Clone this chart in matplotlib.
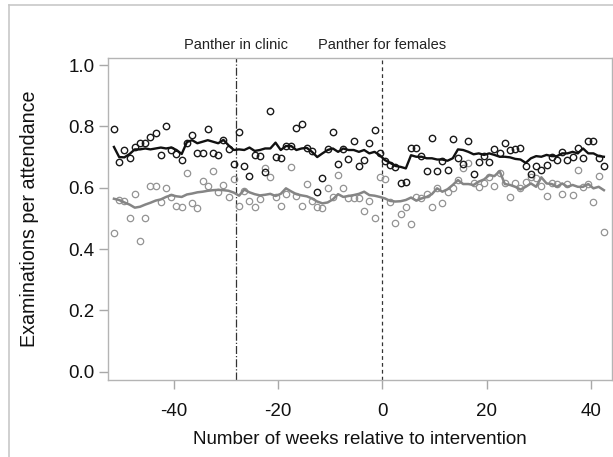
import numpy as np
import matplotlib
matplotlib.use("Agg")
import matplotlib.pyplot as plt
from matplotlib.lines import Line2D
from matplotlib.transforms import blended_transform_factory

plt.rcParams['font.family'] = ['Liberation Sans', 'DejaVu Sans']
plt.rcParams['axes.unicode_minus'] = False

# weeks relative to intervention (points sit mid-week)
weeks = np.arange(-51.5, 43.0, 1.0)

# examinations per attendance, group 1 (black) and group 2 (gray)
black_pts = [0.791, 0.685, 0.723, 0.697, 0.733, 0.745, 0.745, 0.764, 0.779, 0.707,
             0.801, 0.723, 0.710, 0.690, 0.747, 0.773, 0.714, 0.714, 0.791, 0.712,
             0.707, 0.755, 0.726, 0.678, 0.782, 0.671, 0.638, 0.707, 0.705, 0.652,
             0.849, 0.701, 0.696, 0.736, 0.736, 0.796, 0.809, 0.729, 0.720, 0.587,
             0.631, 0.725, 0.783, 0.676, 0.727, 0.693, 0.753, 0.671, 0.690, 0.745,
             0.788, 0.712, 0.688, 0.674, 0.669, 0.616, 0.620, 0.730, 0.730, 0.703,
             0.655, 0.761, 0.655, 0.688, 0.658, 0.758, 0.696, 0.677, 0.752, 0.644,
             0.685, 0.703, 0.683, 0.725, 0.712, 0.745, 0.723, 0.727, 0.729, 0.671,
             0.645, 0.671, 0.658, 0.675, 0.699, 0.690, 0.717, 0.690, 0.701, 0.729,
             0.696, 0.752, 0.752, 0.696, 0.671]
gray_pts = [0.451, 0.560, 0.558, 0.501, 0.579, 0.426, 0.501, 0.605, 0.605, 0.554,
            0.599, 0.569, 0.541, 0.536, 0.647, 0.549, 0.533, 0.621, 0.605, 0.655,
            0.586, 0.608, 0.569, 0.627, 0.540, 0.590, 0.557, 0.538, 0.562, 0.665,
            0.634, 0.571, 0.541, 0.580, 0.667, 0.572, 0.541, 0.612, 0.557, 0.538,
            0.535, 0.598, 0.571, 0.642, 0.600, 0.565, 0.565, 0.565, 0.525, 0.556,
            0.502, 0.636, 0.627, 0.552, 0.486, 0.514, 0.538, 0.482, 0.571, 0.565,
            0.580, 0.536, 0.598, 0.549, 0.587, 0.600, 0.625, 0.663, 0.681, 0.615,
            0.603, 0.614, 0.636, 0.605, 0.647, 0.614, 0.571, 0.616, 0.598, 0.620,
            0.634, 0.631, 0.605, 0.573, 0.614, 0.612, 0.579, 0.612, 0.576, 0.658,
            0.603, 0.612, 0.554, 0.639, 0.455]

# smoothed trend lines
black_line = [0.733, 0.700, 0.699, 0.710, 0.725, 0.725, 0.728, 0.725, 0.728, 0.731,
              0.728, 0.731, 0.723, 0.710, 0.749, 0.755, 0.745, 0.750, 0.755, 0.750,
              0.745, 0.756, 0.738, 0.723, 0.725, 0.723, 0.731, 0.720, 0.723, 0.728,
              0.728, 0.747, 0.723, 0.736, 0.736, 0.723, 0.728, 0.730, 0.717, 0.700,
              0.712, 0.723, 0.728, 0.717, 0.728, 0.723, 0.723, 0.717, 0.723, 0.712,
              0.717, 0.706, 0.690, 0.681, 0.671, 0.668, 0.663, 0.706, 0.701, 0.701,
              0.696, 0.696, 0.692, 0.692, 0.688, 0.696, 0.725, 0.723, 0.717, 0.709,
              0.712, 0.707, 0.712, 0.707, 0.701, 0.701, 0.699, 0.694, 0.692, 0.681,
              0.696, 0.703, 0.701, 0.707, 0.703, 0.703, 0.712, 0.712, 0.717, 0.712,
              0.728, 0.712, 0.712, 0.703, 0.701]
gray_line = [0.564, 0.560, 0.552, 0.545, 0.535, 0.538, 0.545, 0.551, 0.558, 0.562,
             0.570, 0.576, 0.572, 0.570, 0.578, 0.581, 0.585, 0.587, 0.590, 0.592,
             0.593, 0.592, 0.590, 0.584, 0.574, 0.594, 0.585, 0.579, 0.575, 0.577,
             0.580, 0.573, 0.580, 0.598, 0.588, 0.579, 0.575, 0.572, 0.565, 0.555,
             0.549, 0.552, 0.562, 0.579, 0.570, 0.573, 0.576, 0.580, 0.587, 0.576,
             0.574, 0.570, 0.565, 0.557, 0.555, 0.556, 0.560, 0.568, 0.558, 0.565,
             0.570, 0.579, 0.598, 0.587, 0.595, 0.609, 0.625, 0.612, 0.612, 0.609,
             0.620, 0.627, 0.641, 0.638, 0.654, 0.612, 0.609, 0.603, 0.594, 0.603,
             0.614, 0.603, 0.634, 0.614, 0.612, 0.603, 0.614, 0.603, 0.609, 0.603,
             0.603, 0.612, 0.598, 0.603, 0.592]

events = [-28, 0]
event_labels = ["Panther in clinic", "Panther for females"]
event_styles = ["-.", (0, (3, 2.5))]

fig = plt.figure(figsize=(6.13, 4.57), dpi=100)
ax = fig.add_axes([107.7 / 613, 1 - 380 / 457, 504 / 613, 322.3 / 457])

# outer frame of the cropped panel
frame_col = "#c8c8c8"
fig.add_artist(Line2D([9 / 613, 1], [1 - 4.5 / 457, 1 - 4.5 / 457], color=frame_col, lw=1.2))
fig.add_artist(Line2D([9 / 613, 9 / 613], [0, 1 - 4.5 / 457], color=frame_col, lw=1.2))

ax.plot(weeks, gray_pts, 'o', ms=4.6, mfc='none', mec='#939393', mew=0.9, zorder=2)
ax.plot(weeks, black_pts, 'o', ms=4.6, mfc='none', mec='#1a1a1a', mew=1.0, zorder=3)
ax.plot(weeks, gray_line, color='#858585', lw=1.8, zorder=4)
ax.plot(weeks, black_line, color='#111111', lw=1.7, zorder=5)

trans = blended_transform_factory(ax.transData, fig.transFigure)
for xv, lab, ls in zip(events, event_labels, event_styles):
    ax.axvline(xv, color='#333333', lw=0.9, ls=ls, zorder=1)
    ax.text(xv, 1 - 45 / 457, lab, transform=trans, ha='center', va='center',
            fontsize=10.5, color='#222222')

ax.set_xlim(-52.7, 44.0)
ax.set_ylim(-0.027, 1.024)
ax.set_xticks([-40, -20, 0, 20, 40])
ax.set_yticks([0.0, 0.2, 0.4, 0.6, 0.8, 1.0])
ax.set_yticklabels(["0.0", "0.2", "0.4", "0.6", "0.8", "1.0"])

for sp in ax.spines.values():
    sp.set_color('#b4b4b4')
    sp.set_linewidth(1.0)
ax.tick_params(axis='both', colors='#a8a8a8', labelcolor='#111111', labelsize=13.5,
               length=6.5, width=1.0)
ax.tick_params(axis='x', pad=10)
ax.tick_params(axis='y', pad=3)

ax.set_xlabel("Number of weeks relative to intervention", fontsize=13.5, color='#111111')
ax.xaxis.set_label_coords(0.5, -(431 - 380) / 322.3, transform=ax.transAxes)
ax.set_ylabel("Examinations per attendance", fontsize=14.2, color='#111111')
ax.yaxis.set_label_coords(-(107.7 - 39) / 504, 0.5, transform=ax.transAxes)

fig.savefig("out.png", dpi=100)
